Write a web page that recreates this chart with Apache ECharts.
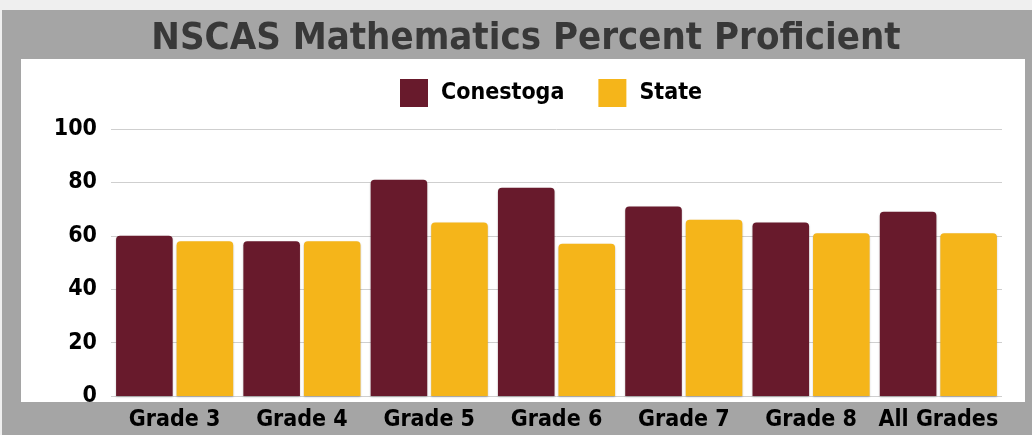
<!DOCTYPE html>
<html>
<head>
<meta charset="utf-8">
<script src="https://cdn.jsdelivr.net/npm/echarts@6/dist/echarts.min.js"></script>
<style>
html,body{margin:0;padding:0;background:#efefef;}
#chart{width:1032px;height:435px;}
</style>
</head>
<body>
<div id="chart"></div>
<script>
const categories = ['Grade 3', 'Grade 4', 'Grade 5', 'Grade 6', 'Grade 7', 'Grade 8', 'All Grades'];
const conestoga = [60, 58, 81, 78, 71, 65, 69];
const state = [58, 58, 65, 57, 66, 61, 61];
const yTicks = [0, 20, 40, 60, 80, 100];
const titleText = 'NSCAS Mathematics Percent Proficient';

const FONT = '"Liberation Sans Narrow", "DejaVu Sans Condensed", "Liberation Sans", sans-serif';
const chart = echarts.init(document.getElementById('chart'));
chart.setOption({
  backgroundColor: '#efefef',
  animation: false,
  graphic: [
    { type: 'rect', z: -10, shape: { x: 2, y: 10, width: 1030, height: 425 }, style: { fill: '#a5a5a5' }, silent: true },
    { type: 'rect', z: -9, shape: { x: 21, y: 59, width: 1004, height: 343 }, style: { fill: '#ffffff' }, silent: true },
    { type: 'text', z: 5, x: 526, y: 39, style: { text: titleText, fill: '#383838', font: 'bold 38px ' + FONT, textAlign: 'center', textVerticalAlign: 'middle' } }
  ],
  legend: {
    left: 395, top: 74,
    itemWidth: 28, itemHeight: 28, itemGap: 34,
    icon: 'rect',
    textStyle: { color: '#000', fontSize: 23, fontWeight: 'bold', fontFamily: FONT, padding: [0, 0, 0, 8] },
    data: ['Conestoga', 'State']
  },
  grid: { left: 111, right: 30, top: 129, bottom: 39, containLabel: false },
  xAxis: {
    type: 'category', data: categories,
    axisLine: { show: false }, axisTick: { show: false },
    axisLabel: { interval: 0, color: '#000', fontSize: 23, fontWeight: 'bold', fontFamily: FONT, margin: 13 }
  },
  yAxis: {
    type: 'value', min: 0, max: 100, interval: 20,
    axisLine: { show: false }, axisTick: { show: false },
    splitLine: { lineStyle: { color: '#cfcfcf', width: 1 } },
    axisLabel: { color: '#000', fontSize: 23, fontWeight: 'bold', fontFamily: FONT, margin: 14,
      formatter: v => yTicks.includes(v) ? String(v) : '' }
  },
  series: [
    { name: 'Conestoga', type: 'bar', data: conestoga, barCategoryGap: '8%', barGap: '7%',
      itemStyle: { color: '#681a2c', borderRadius: [4, 4, 0, 0], shadowColor: 'rgba(0,0,0,0.25)', shadowBlur: 2, shadowOffsetY: 1 } },
    { name: 'State', type: 'bar', data: state, barCategoryGap: '8%', barGap: '7%',
      itemStyle: { color: '#f5b51a', borderRadius: [4, 4, 0, 0], shadowColor: 'rgba(0,0,0,0.25)', shadowBlur: 2, shadowOffsetY: 1 } }
  ]
});
</script>
</body>
</html>
